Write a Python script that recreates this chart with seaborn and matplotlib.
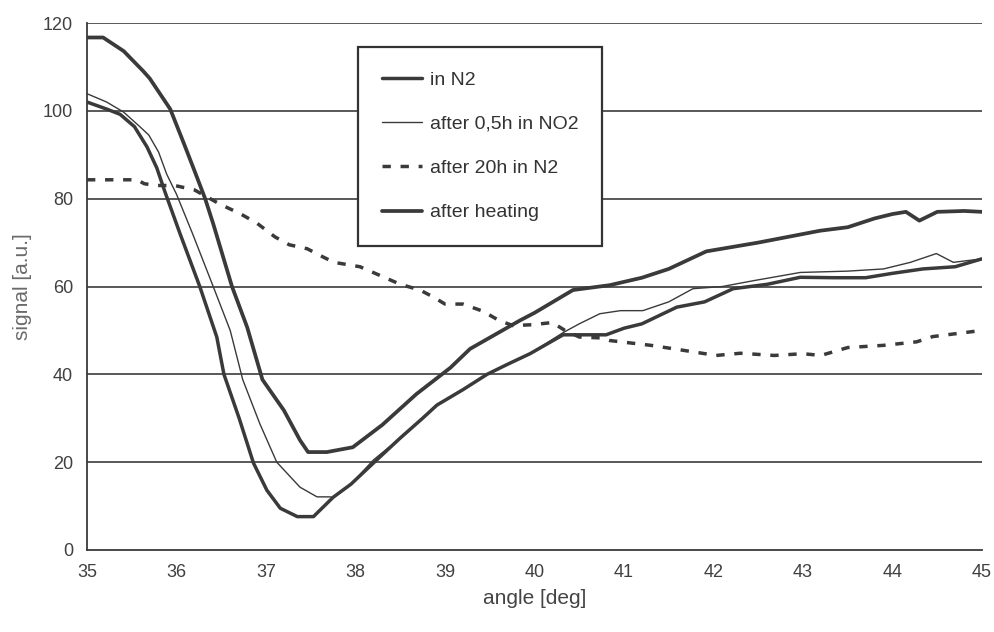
import matplotlib
matplotlib.use("Agg")
import matplotlib.pyplot as plt
import seaborn as sns
import pandas as pd

# ---- data ----
x_in_n2 = [35.0, 35.22, 35.37, 35.53, 35.67, 35.78, 35.87, 36.04, 36.26, 36.45, 36.53, 36.7,
           36.86, 37.01, 37.16, 37.35, 37.53, 37.75, 37.95, 38.2, 38.5, 38.75, 38.91, 39.2,
           39.47, 39.7, 39.95, 40.32, 40.8, 41.0, 41.2, 41.59, 41.9, 42.22, 42.6, 42.97,
           43.35, 43.7, 44.0, 44.34, 44.7, 45.0]
y_in_n2 = [102.0, 100.4, 99.2, 96.4, 91.8, 87.0, 81.6, 72.0, 60.0, 48.5, 40.0, 30.0,
           19.8, 13.6, 9.5, 7.6, 7.6, 12.0, 15.0, 19.8, 25.5, 30.0, 33.0, 36.5,
           40.0, 42.3, 44.7, 49.0, 49.0, 50.5, 51.5, 55.3, 56.5, 59.5, 60.5, 62.1,
           62.0, 62.0, 63.0, 64.0, 64.5, 66.3]

x_no2 = [35.0, 35.22, 35.41, 35.59, 35.69, 35.8, 35.89, 36.0, 36.18, 36.41, 36.6, 36.74,
         36.93, 37.12, 37.38, 37.57, 37.71, 37.75, 37.95, 38.2, 38.5, 38.75, 38.91, 39.2,
         39.47, 39.7, 39.95, 40.32, 40.5, 40.73, 40.96, 41.21, 41.5, 41.77, 42.1, 42.44,
         42.97, 43.5, 43.9, 44.2, 44.49, 44.68, 45.0]
y_no2 = [103.9, 102.0, 99.7, 96.4, 94.5, 90.6, 85.6, 81.0, 72.0, 60.0, 50.0, 38.8,
         28.8, 20.0, 14.3, 12.1, 12.1, 12.0, 15.0, 20.5, 25.5, 30.0, 33.0, 36.5,
         40.0, 42.3, 44.7, 49.5, 51.5, 53.8, 54.5, 54.5, 56.5, 59.5, 60.0, 61.3,
         63.2, 63.5, 64.0, 65.5, 67.5, 65.5, 66.3]

x_20h = [35.0, 35.56, 35.64, 35.78, 35.98, 36.2, 36.49, 36.71, 36.9, 37.1, 37.26, 37.46,
         37.63, 37.76, 38.05, 38.5, 38.72, 38.87, 39.0, 39.2, 39.42, 39.61, 39.76, 39.98,
         40.2, 40.34, 40.5, 40.73, 40.84, 41.3, 41.59, 42.03, 42.3, 42.68, 43.0, 43.2,
         43.5, 43.9, 44.27, 44.45, 45.0]
y_20h = [84.3, 84.3, 83.4, 83.0, 83.0, 82.0, 78.7, 76.6, 74.4, 71.3, 69.5, 68.6,
         66.8, 65.5, 64.5, 60.5, 59.2, 57.6, 56.0, 56.0, 54.4, 52.2, 51.1, 51.3,
         51.8, 50.0, 48.5, 48.3, 47.7, 46.6, 45.7, 44.3, 44.8, 44.3, 44.7, 44.3,
         46.1, 46.6, 47.4, 48.6, 50.0]

x_heat = [35.0, 35.18, 35.41, 35.63, 35.7, 35.93, 36.08, 36.2, 36.32, 36.41, 36.62, 36.79,
          36.96, 37.2, 37.38, 37.47, 37.68, 37.97, 38.3, 38.68, 39.06, 39.28, 39.84, 40.0,
          40.43, 40.84, 41.2, 41.5, 41.92, 42.5, 43.19, 43.5, 43.8, 44.0, 44.15, 44.3,
          44.5, 44.8, 45.0]
y_heat = [116.7, 116.7, 113.6, 109.0, 107.4, 100.4, 92.7, 86.4, 80.0, 74.3, 60.0, 50.7,
          38.8, 31.8, 25.0, 22.3, 22.3, 23.4, 28.5, 35.5, 41.5, 45.8, 52.3, 54.0,
          59.2, 60.3, 62.0, 64.0, 68.0, 70.0, 72.7, 73.5, 75.5, 76.5, 77.0, 75.0,
          77.0, 77.2, 77.0]

series_names = ["in N2", "after 0,5h in NO2", "after 20h in N2", "after heating"]
x_ticks = [35, 36, 37, 38, 39, 40, 41, 42, 43, 44, 45]
y_ticks = [0, 20, 40, 60, 80, 100, 120]

# ---- plot ----
sns.set_style("white")
plt.rcParams['font.family'] = ['Liberation Sans', 'DejaVu Sans']

fig = plt.figure(figsize=(9.94, 6.32), dpi=100)
ax = fig.add_axes([87 / 994, 1 - 550 / 632, (982 - 87) / 994, (550 - 23) / 632])

line_col = "#3a3a3a"
styles = {
    "in N2": dict(lw=2.5, ls="-"),
    "after 0,5h in NO2": dict(lw=1.0, ls="-"),
    "after 20h in N2": dict(lw=2.5, ls=(0, (2.4, 2.8))),
    "after heating": dict(lw=2.7, ls="-"),
}
data = {
    "in N2": (x_in_n2, y_in_n2),
    "after 0,5h in NO2": (x_no2, y_no2),
    "after 20h in N2": (x_20h, y_20h),
    "after heating": (x_heat, y_heat),
}

for yt in y_ticks[1:]:
    ax.axhline(yt, color="#3c3c3c", lw=1.2, zorder=1)

for name in series_names:
    xs, ys = data[name]
    df = pd.DataFrame({"angle": xs, "signal": ys})
    st = styles[name]
    sns.lineplot(data=df, x="angle", y="signal", ax=ax, color=line_col,
                 linewidth=st["lw"], linestyle=st["ls"], label=name,
                 sort=False, estimator=None, zorder=3)

ax.set_xlim(35, 45)
ax.set_ylim(0, 120)
ax.set_xticks(x_ticks)
ax.set_yticks(y_ticks)
ax.tick_params(axis="both", direction="out", length=6, width=1.2, colors="#3a3a3a",
               labelsize=13, labelcolor="#404040", pad=4)
for s in ["top", "right"]:
    ax.spines[s].set_visible(False)
for s in ["left", "bottom"]:
    ax.spines[s].set_color("#3a3a3a")
    ax.spines[s].set_linewidth(1.3)

ax.set_xlabel("angle [deg]", fontsize=15, color="#444444", labelpad=6)
ax.set_ylabel("signal [a.u.]", fontsize=15, color="#6a6a6a", labelpad=8)

leg = ax.legend(loc="upper left", bbox_to_anchor=((358 - 87) / 895, (550 - 47) / 527),
                borderaxespad=0, fancybox=False, framealpha=1, edgecolor="#333333",
                fontsize=14, labelspacing=1.37, handlelength=2.05, handletextpad=0.4,
                borderpad=1.24)
leg.get_frame().set_linewidth(1.6)
for t in leg.get_texts():
    t.set_color("#333333")

fig.savefig("out.png", dpi=100)
